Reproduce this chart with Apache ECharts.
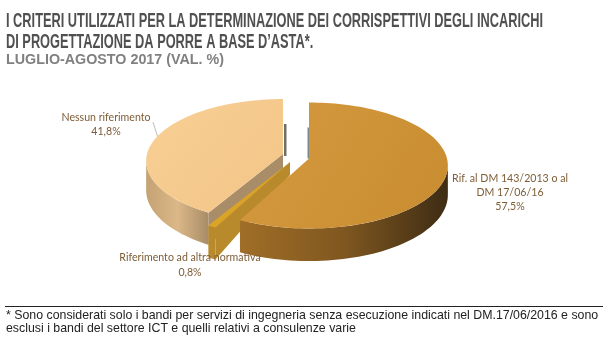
<!DOCTYPE html>
<html><head><meta charset="utf-8">
<style>html,body{margin:0;padding:0;background:#fff}#c{width:607px;height:351px}</style>
<script src="https://cdn.jsdelivr.net/npm/echarts@6/dist/echarts.min.js"></script>
</head><body><div id="c"></div>
<script>
const categories = ['Rif. al DM 143/2013 o al DM 17/06/16', 'Riferimento ad altra normativa', 'Nessun riferimento'];
const values = [57.5, 0.8, 41.8];
const valueLabels = ['57,5%', '0,8%', '41,8%'];
const labelLines = [['Rif. al DM 143/2013 o al', 'DM 17/06/16', '57,5%'], ['Riferimento ad altra normativa', '0,8%'], ['Nessun riferimento', '41,8%']];
const titleLines = ['I CRITERI UTILIZZATI PER LA DETERMINAZIONE DEI CORRISPETTIVI DEGLI INCARICHI', 'DI PROGETTAZIONE DA PORRE A BASE D\u2019ASTA*.'];
const subtitle = 'LUGLIO-AGOSTO 2017 (VAL. %)';
const footnote = ['* Sono considerati solo i bandi per servizi di ingegneria senza esecuzione indicati nel DM.17/06/2016 e sono', 'esclusi i bandi del settore ICT e quelli relativi a consulenze varie'];

const P = 0.111, DEPTH = 29;
const geom = [
  {ax:309, ay:158.5, rx:138, ry:62.2, z:30, lx:510, ly:[179,193,207],
   top:['#d49a3f','#c98c30'], wall:['#a06e27','#7f5720','#3e2c14'], cut:'#7a8a8c'},
  {ax:290, ay:162, rx:149, ry:66, z:20, lx:190, ly:[258,273],
   top:['#e0aa2a','#d49c22'], wall:['#b98a2c','#b98a2c','#b98a2c'], cut:'#b98a2c'},
  {ax:283, ay:154, rx:136, ry:61, z:10, lx:106, ly:[118,132],
   top:['#f8cf95','#f3c587'], wall:['#c4a273','#dcb888','#a88c68'], cut:'#a98c68', sliver:'#6f6f68'}
];
const total = values.reduce((a, b) => a + b, 0);
function pt(g, deg, drop) {
  const t = deg * Math.PI / 180, w = 1 + P * Math.cos(t);
  return [g.ax + g.rx * Math.sin(t) / w, g.ay - g.ry * Math.cos(t) / w + (drop ? DEPTH / w : 0)];
}
function arc(g, a0, a1, drop) {
  const n = Math.max(2, Math.ceil((a1 - a0) / 2)), out = [];
  for (let i = 0; i <= n; i++) out.push(pt(g, a0 + (a1 - a0) * i / n, drop));
  return out;
}
function grad(x0, y0, x1, y1, cols) {
  return new echarts.graphic.LinearGradient(x0, y0, x1, y1,
    cols.map((c, i) => ({offset: i / (cols.length - 1), color: c})));
}
function renderSlice(params, api) {
  const i = params.dataIndex, g = geom[i];
  let before = 0;
  for (let k = 0; k < i; k++) before += values[k];
  const a0 = before / total * 360, a1 = (before + api.value(0)) / total * 360;
  const ch = [];
  const apex = [g.ax, g.ay];
  const vis0 = Math.max(a0, 96), vis1 = Math.min(a1, 264);
  if (g.sliver) {
    ch.push({type:'polygon', z2:g.z, shape:{points:[[g.ax+1,g.ay-30],[g.ax+3.5,g.ay-30],[g.ax+3.5,g.ay+2],[g.ax+1,g.ay+2]]}, style:{fill:g.sliver}});
  }
  if (i === 0) {
    ch.push({type:'polygon', z2:g.z, shape:{points:[[g.ax-1.5,g.ay-31],[g.ax+1,g.ay-31],[g.ax+1,g.ay],[g.ax-1.5,g.ay]]}, style:{fill:g.cut}});
  }
  if (i > 0) {
    const e = pt(g, a0, false), eb = pt(g, a0, true);
    const faceDrop = i === 1 ? 13 : DEPTH;
    ch.push({type:'polygon', z2:g.z, shape:{points:[apex, e, eb, [g.ax, g.ay + faceDrop]]}, style:{fill:g.cut}});
  }
  if (vis1 > vis0) {
    const pts = arc(g, vis0, vis1, false).concat(arc(g, vis0, vis1, true).reverse());
    ch.push({type:'polygon', z2:g.z + 1, shape:{points:pts}, style:{fill: grad(0, 0, 1, 0, g.wall)}});
  }
  const topPts = [apex].concat(arc(g, a0, a1, false));
  ch.push({type:'polygon', z2:g.z + 2, shape:{points:topPts}, style:{fill: grad(0, 0, 1, 1, g.top)}});
  labelLines[i].forEach((t, k) => {
    ch.push({type:'text', z2:100, style:{text:t, x:g.lx, y:g.ly[k], align:'center', verticalAlign:'middle',
      fill:'#7d5c36', font:'10.6px Lato'}});
  });
  return {type:'group', children:ch};
}
const chart = echarts.init(document.getElementById('c'), null, {renderer:'canvas'});
const titleFont = 'bold 20px "Liberation Sans"';
const mctx = document.createElement('canvas').getContext('2d');
mctx.font = titleFont;
const titleScale = 537 / mctx.measureText(titleLines[0]).width;
const txt = (text, x, y, font, fill, scaleX) => ({type:'text', x, y, scaleX: scaleX || 1,
  style:{text, font, fill, verticalAlign:'middle'}});
chart.setOption({
  animation:false,
  backgroundColor:'#ffffff',
  xAxis:{show:false, type:'value', min:0, max:1},
  yAxis:{show:false, type:'value', min:0, max:1},
  grid:{left:0, right:0, top:0, bottom:0},
  graphic:[
    txt(titleLines[0], 6, 21.5, titleFont, '#505050', titleScale),
    txt(titleLines[1], 6, 42.5, titleFont, '#505050', titleScale),
    txt(subtitle, 6, 60.5, 'bold 14.3px "Liberation Sans"', '#808080'),
    txt(footnote[0], 6, 315.5, '12.35px "Liberation Sans"', '#222222'),
    txt(footnote[1], 6, 328.5, '12.35px "Liberation Sans"', '#222222'),
    {type:'line', shape:{x1:5, y1:306.5, x2:603, y2:306.5}, style:{stroke:'#222', lineWidth:1}},
    {type:'line', shape:{x1:153, y1:122, x2:158, y2:138}, style:{stroke:'#a0a0a0', lineWidth:0.7}}
  ],
  series:[{
    type:'custom', coordinateSystem:'none', renderItem:renderSlice,
    data:values.map((v, i) => ({name:categories[i], value:[v, valueLabels[i]]}))
  }]
});
</script></body></html>
